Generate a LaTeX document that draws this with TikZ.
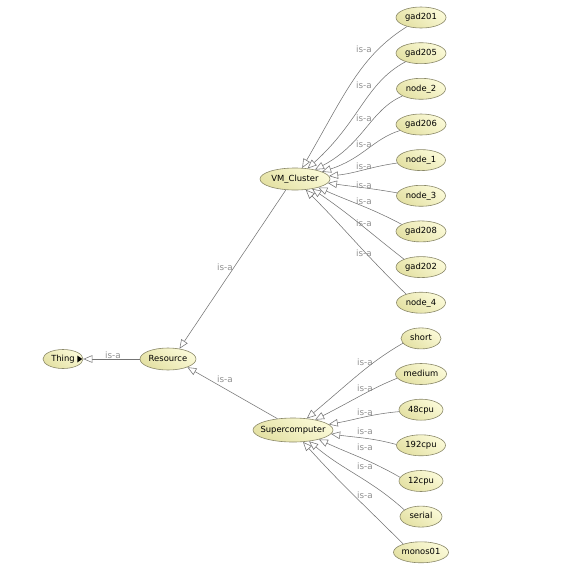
\documentclass[tikz,border=0pt]{standalone}
\usepackage{fontspec}
\newfontfamily\owlfont{DejaVu Sans}
\usetikzlibrary{shapes.geometric,arrows.meta}
\definecolor{nodelight}{HTML}{FBFAD8}
\definecolor{nodedark}{HTML}{E4E1A4}
\definecolor{nodeline}{HTML}{8A8868}
\definecolor{edgegray}{HTML}{747474}
\definecolor{labelgray}{HTML}{909090}
\newcommand\owltxt[1]{\makebox[0pt]{#1}}
\begin{document}
\begin{tikzpicture}[x=1pt,y=1pt,
  owl/.style={ellipse, draw=nodeline, line width=0.6pt, top color=nodelight, bottom color=nodedark, shading angle=-35,
    inner sep=0pt, minimum height=21pt, font=\owlfont\fontsize{8.4}{10}\selectfont, text height=6.2pt, text depth=1.6pt},
  isa/.style={draw=edgegray, line width=0.55pt, -{Triangle[length=9pt,width=7.5pt,fill=white,line width=0.55pt]}},
  bendfar/.style={out looseness=0.8, in looseness=1.25},
  lbl/.style={font=\owlfont\fontsize{8.8}{10}\selectfont, text=labelgray, inner sep=0pt}
]
\useasboundingbox (0,0) rectangle (565,-563);
% hubs
\node[owl, minimum width=70pt, minimum height=22pt] (vm) at (295,-179) {\owltxt{VM\_Cluster}};
\node[owl, minimum width=56pt, minimum height=22pt] (res) at (168,-359) {\owltxt{Resource}};
\node[owl, minimum width=40pt, minimum height=19pt] (thing) at (63,-359) {\owltxt{Thing}};
\node[owl, minimum width=80pt, minimum height=24pt] (super) at (293,-430) {\owltxt{Supercomputer}};
% VM_Cluster leaves
\node[owl, minimum width=50pt] (gad201) at (421,-17.5) {\owltxt{gad201}};
\node[owl, minimum width=50pt] (gad205) at (421,-53.2) {\owltxt{gad205}};
\node[owl, minimum width=49pt] (node2) at (421,-88.8) {\owltxt{node\_2}};
\node[owl, minimum width=50pt] (gad206) at (421,-124.5) {\owltxt{gad206}};
\node[owl, minimum width=49pt] (node1) at (421,-160.1) {\owltxt{node\_1}};
\node[owl, minimum width=49pt] (node3) at (421,-195.8) {\owltxt{node\_3}};
\node[owl, minimum width=50pt] (gad208) at (421,-231.4) {\owltxt{gad208}};
\node[owl, minimum width=50pt] (gad202) at (421,-267.1) {\owltxt{gad202}};
\node[owl, minimum width=49pt] (node4) at (421,-302.7) {\owltxt{node\_4}};
% Supercomputer leaves
\node[owl, minimum width=40pt] (short) at (421,-338.4) {\owltxt{short}};
\node[owl, minimum width=51pt] (medium) at (421,-374) {\owltxt{medium}};
\node[owl, minimum width=44pt] (c48) at (421,-409.7) {\owltxt{48cpu}};
\node[owl, minimum width=49pt] (c192) at (421,-445.3) {\owltxt{192cpu}};
\node[owl, minimum width=44pt] (c12) at (421,-481) {\owltxt{12cpu}};
\node[owl, minimum width=42pt] (serial) at (421,-516.6) {\owltxt{serial}};
\node[owl, minimum width=55pt] (monos) at (421,-552.3) {\owltxt{monos01}};
% expand marker in Thing
\fill[black] ([xshift=-1pt]thing.east) -- ++(-5,3.5) -- ++(0,-7) -- cycle;
% edges to VM_Cluster
\draw[isa] (gad201.213) to[out=212,in=60,bendfar] (vm.57);
\draw[isa] (gad205.209) to[out=208,in=42,bendfar] (vm.40);
\draw[isa] (node2.201) to[out=204,in=28,bendfar] (vm.25);
\draw[isa] (gad206.196) to[out=197,in=18,bendfar] (vm.15);
\draw[isa] (node1.187) to[out=188,in=6] (vm.5);
\draw[isa] (node3.173) to[out=170,in=-8] (vm.-7);
\draw[isa] (gad208.160) to[out=152,in=-24] (vm.-20);
\draw[isa] (gad202.155) to[out=142,in=-34] (vm.-30);
\draw[isa] (node4.150) to[out=136,in=-45] (vm.-45);
% edges to Supercomputer
\draw[isa] (short.195) to[out=210,in=40,bendfar] (super.40);
\draw[isa] (medium.190) to[out=202,in=27,bendfar] (super.25);
\draw[isa] (c48.185) to[out=185,in=10] (super.9);
\draw[isa] (c192.178) to[out=165,in=-8] (super.-6);
\draw[isa] (c12.170) to[out=150,in=-25] (super.-20);
\draw[isa] (serial.158) to[out=138,in=-40] (super.-35);
\draw[isa] (monos.155) to[out=135,in=-48] (super.-50);
% upper edges
\draw[isa] (vm.-130) -- (res.42);
\draw[isa] (super.144) -- (res.-23);
\draw[isa] (res.west) -- (thing.east);
% labels
\node[lbl] (l1) at (364,-49) {is-a};
\node[lbl] (l2) at (364,-85) {is-a};
\node[lbl] (l3) at (364,-118) {is-a};
\node[lbl] (l4) at (364,-144) {is-a};
\node[lbl] (l5) at (364,-166) {is-a};
\node[lbl] (l6) at (364,-185) {is-a};
\node[lbl] (l7) at (364,-201) {is-a};
\node[lbl] (l8) at (364,-223) {is-a};
\node[lbl] (l9) at (364,-253) {is-a};
\node[lbl] (m1) at (365,-362) {is-a};
\node[lbl] (m2) at (365,-388) {is-a};
\node[lbl] (m3) at (365,-412) {is-a};
\node[lbl] (m4) at (365,-431) {is-a};
\node[lbl] (m5) at (365,-447) {is-a};
\node[lbl] (m6) at (365,-466) {is-a};
\node[lbl] (m7) at (365,-495) {is-a};
\node[lbl] (r1) at (225,-267) {is-a};
\node[lbl] (r2) at (225,-379) {is-a};
\node[lbl] (r3) at (113,-355) {is-a};
\end{tikzpicture}
\end{document}
